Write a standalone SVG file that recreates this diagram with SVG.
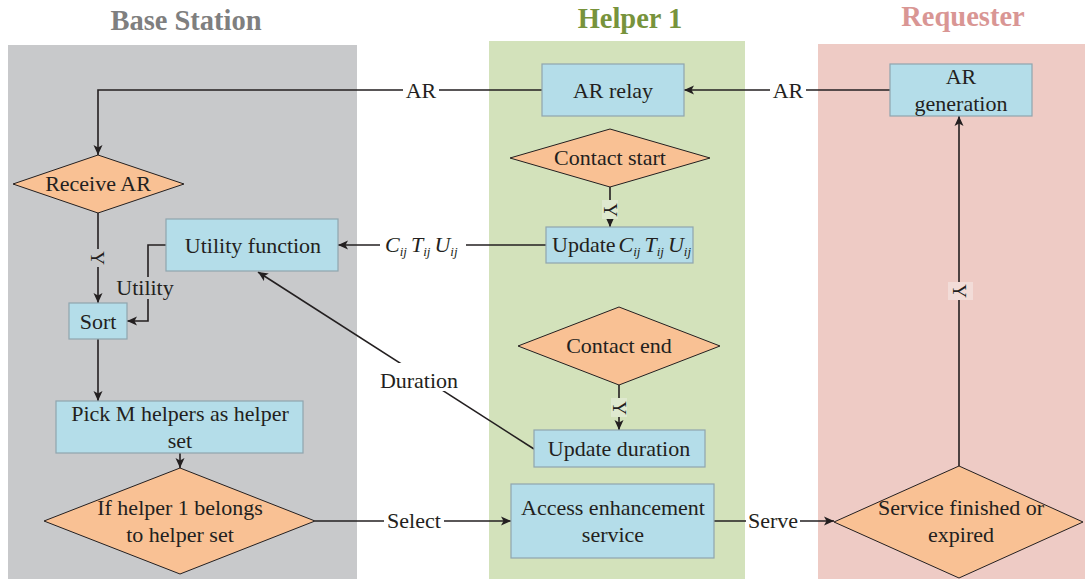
<svg xmlns="http://www.w3.org/2000/svg" width="1085" height="579" viewBox="0 0 1085 579">
<defs>
<marker id="arr" viewBox="0 0 10 10" refX="10" refY="5" markerWidth="10" markerHeight="10" markerUnits="userSpaceOnUse" orient="auto">
<path d="M0,0.5 L10,5 L0,9.5 L2.5,5 Z" fill="#231f20"/>
</marker>
<style>
text{font-family:"Liberation Serif","Times New Roman",serif;fill:#231f20;font-size:22px}
.title{font-weight:bold;font-size:28.5px;text-anchor:middle}
.box{fill:#b4dde9;stroke:#8fa5ae;stroke-width:1.2}
.dia{fill:#f9c194;stroke:#231f20;stroke-width:1}
.c{text-anchor:middle}
.ln{fill:none;stroke:#231f20;stroke-width:1.6}
.arrow{marker-end:url(#arr)}
.it{font-style:italic}
.sub{font-size:13px;font-style:italic}
.y{font-size:19px;text-anchor:middle}
</style>
</defs>
<g id="panels">
<rect x="8" y="45" width="349" height="534" fill="#c8c9cb"/>
<rect x="489" y="41" width="256" height="538" fill="#d3e2bb"/>
<rect x="818" y="44" width="267" height="535" fill="#eecbc5"/>
<text class="title" x="186" y="30" style="fill:#7f7f7f">Base Station</text>
<text class="title" x="630" y="28" style="fill:#77933c">Helper 1</text>
<text class="title" x="963" y="26" style="fill:#d99694">Requester</text>
</g>
<g id="connectors">
<line class="ln arrow" x1="890" y1="90" x2="684" y2="90"/>
<rect x="770" y="78" width="36" height="24" fill="#ffffff"/>
<text class="c" x="788" y="97.5">AR</text>
<polyline class="ln arrow" points="542,90 98,90 98,155"/>
<rect x="403" y="78" width="36" height="24" fill="#ffffff"/>
<text class="c" x="421" y="97.5">AR</text>
<line class="ln arrow" x1="98" y1="213" x2="98" y2="303"/>
<rect x="90" y="249" width="16" height="18" fill="#c8c9cb"/>
<text class="y" transform="translate(91,258) rotate(90)">Y</text>
<polyline class="ln arrow" points="166,245 148,245 148,321 127,321"/>
<rect x="114" y="277" width="64" height="22" fill="#c8c9cb"/>
<text class="c" x="145" y="295">Utility</text>
<line class="ln arrow" x1="546" y1="245" x2="338" y2="245"/>
<rect x="380" y="232" width="86" height="26" fill="#ffffff"/>
<text x="385" y="252"><tspan class="it">C</tspan><tspan class="sub" dy="4">ij</tspan><tspan class="it" dx="4" dy="-4">T</tspan><tspan class="sub" dy="4">ij</tspan><tspan class="it" dx="4" dy="-4">U</tspan><tspan class="sub" dy="4">ij</tspan></text>
<line class="ln arrow" x1="610" y1="187" x2="610" y2="227"/>
<rect x="602" y="200" width="16" height="19" fill="#dfe9cf"/>
<text class="y" transform="translate(604,210) rotate(90)">Y</text>
<line class="ln arrow" x1="619" y1="385" x2="619" y2="430"/>
<rect x="611" y="398" width="16" height="19" fill="#dfe9cf"/>
<text class="y" transform="translate(613,408) rotate(90)">Y</text>
<line class="ln arrow" x1="534" y1="449" x2="258" y2="272"/>
<rect x="374" y="363" width="90" height="28" fill="#ffffff"/>
<text class="c" x="419" y="388">Duration</text>
<line class="ln arrow" x1="98" y1="339" x2="98" y2="401"/>
<line class="ln arrow" x1="180" y1="453" x2="180" y2="468"/>
<line class="ln arrow" x1="315" y1="521" x2="511" y2="521"/>
<rect x="384" y="509" width="60" height="24" fill="#ffffff"/>
<text class="c" x="414" y="528">Select</text>
<line class="ln arrow" x1="714" y1="521" x2="834" y2="521"/>
<rect x="746" y="509" width="54" height="24" fill="#ffffff"/>
<text class="c" x="773" y="528">Serve</text>
<line class="ln arrow" x1="959" y1="466" x2="959" y2="116"/>
<rect x="948" y="282" width="25" height="18" fill="#f2dcd8"/>
<text class="y" transform="translate(953,291) rotate(90)">Y</text>
</g>
<g id="ar-relay"><rect class="box" x="542" y="64" width="142" height="52"/><text class="c" x="613" y="97.5">AR relay</text></g>
<g id="ar-generation"><rect class="box" x="890" y="64" width="142" height="52"/><text class="c" x="961" y="84">AR</text><text class="c" x="961" y="111">generation</text></g>
<g id="contact-start"><polygon class="dia" points="610,129 710,158 610,187 510,158"/><text class="c" x="610" y="165">Contact start</text></g>
<g id="update-ctu"><rect class="box" x="546" y="227" width="147" height="36"/><text x="552" y="252">Update<tspan class="it" dx="3">C</tspan><tspan class="sub" dy="4">ij</tspan><tspan class="it" dx="4" dy="-4">T</tspan><tspan class="sub" dy="4">ij</tspan><tspan class="it" dx="4" dy="-4">U</tspan><tspan class="sub" dy="4">ij</tspan></text></g>
<g id="contact-end"><polygon class="dia" points="619,307 720,346 619,385 518,346"/><text class="c" x="619" y="353">Contact end</text></g>
<g id="update-duration"><rect class="box" x="534" y="430" width="171" height="37"/><text class="c" x="619" y="456">Update duration</text></g>
<g id="access-service"><rect class="box" x="511" y="484" width="203" height="74"/><text class="c" x="613" y="515">Access enhancement</text><text class="c" x="613" y="542">service</text></g>
<g id="service-finished"><polygon class="dia" points="959,466 1083,522 959,578 834,522"/><text class="c" x="961" y="515">Service finished or</text><text class="c" x="961" y="542">expired</text></g>
<g id="receive-ar"><polygon class="dia" points="98,155 184,184 98,213 13,184"/><text class="c" x="98" y="191">Receive AR</text></g>
<g id="utility-function"><rect class="box" x="166" y="219" width="172" height="52"/><text class="c" x="253" y="252.5">Utility function</text></g>
<g id="sort"><rect class="box" x="69" y="303" width="58" height="36"/><text class="c" x="98" y="329">Sort</text></g>
<g id="pick-m"><rect class="box" x="56" y="401" width="247" height="52"/><text class="c" x="180" y="421">Pick M helpers as helper</text><text class="c" x="180" y="448">set</text></g>
<g id="if-helper"><polygon class="dia" points="180,468 315,521 180,574 44,521"/><text class="c" x="180" y="515">If helper 1 belongs</text><text class="c" x="180" y="542">to helper set</text></g>
</svg>
